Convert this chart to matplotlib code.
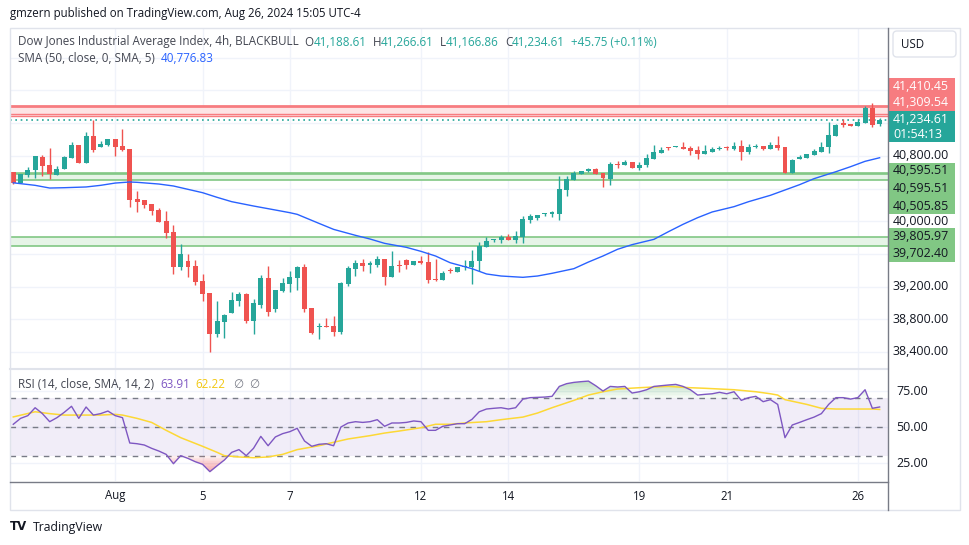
import matplotlib
matplotlib.use("Agg")
import matplotlib.pyplot as plt
from matplotlib.patches import Rectangle, FancyBboxPatch
import numpy as np

plt.rcParams['font.family'] = ['Open Sans', 'DejaVu Sans']

# ---------------- data ----------------
opens = [40598, 40468, 40570, 40623, 40786, 40688, 40570, 40643, 40778, 40933,
         40717, 41043, 40912, 40937, 41006, 40921, 40884, 40272, 40260, 40211,
         40137, 40003, 39868, 39444, 39513, 39452, 39268, 39125, 38624, 38770,
         38876, 39027, 39109, 38783, 38979, 39305, 38925, 39146, 39235, 39309,
         39439, 38938, 38701, 38717, 38717, 38648, 39231, 39419, 39489, 39468,
         39464, 39537, 39321, 39464, 39525, 39468, 39513, 39501, 39293, 39284,
         39399, 39382, 39439, 39439, 39513, 39688, 39770, 39774, 39811, 39770,
         39807, 40015, 40039, 40084, 40084, 40088, 40386, 40508, 40574, 40619,
         40639, 40590, 40521, 40700, 40692, 40729, 40655, 40692, 40761, 40839,
         40904, 40904, 40908, 40892, 40872, 40827, 40851, 40880, 40900, 40884,
         40921, 40847, 40904, 40921, 40884, 40933, 40908, 40594, 40765, 40774,
         40810, 40847, 40908, 41043, 41202, 41190, 41165, 41202, 41386, 41188.61]
highs = [40598, 40574, 40663, 40798, 40810, 40896, 40676, 40794, 40974, 40937,
         41092, 41239, 40982, 41006, 41006, 41129, 40884, 40370, 40260, 40211,
         40158, 40125, 39954, 39721, 39599, 39525, 39350, 39125, 39023, 38868,
         39138, 39138, 39117, 39044, 39342, 39452, 39158, 39309, 39391, 39452,
         39480, 38938, 38754, 38815, 38840, 39256, 39456, 39525, 39537, 39513,
         39574, 39537, 39635, 39525, 39537, 39513, 39574, 39623, 39537, 39391,
         39427, 39439, 39525, 39648, 39746, 39807, 39786, 39827, 39843, 39880,
         40068, 40088, 40076, 40101, 40125, 40549, 40549, 40619, 40619, 40651,
         40651, 40590, 40725, 40737, 40749, 40729, 40725, 40823, 40933, 40904,
         40908, 40921, 40970, 40921, 40921, 40933, 40904, 40921, 40921, 40970,
         40994, 40941, 40945, 40921, 40970, 41043, 40908, 40761, 40810, 40823,
         40884, 40970, 41214, 41190, 41251, 41190, 41251, 41410, 41447, 41266.61]
lows = [40460, 40464, 40545, 40533, 40557, 40521, 40566, 40643, 40778, 40713,
        40708, 40851, 40904, 40925, 40802, 40863, 40178, 40117, 40162, 40080,
        39994, 39790, 39358, 39403, 39321, 39223, 39027, 38403, 38587, 38575,
        38876, 38966, 38754, 38624, 38934, 38840, 38893, 39138, 39138, 39158,
        38893, 38624, 38562, 38701, 38599, 38615, 39211, 39333, 39395, 39370,
        39444, 39223, 39321, 39382, 39415, 39464, 39480, 39248, 39272, 39284,
        39366, 39382, 39403, 39236, 39391, 39688, 39750, 39737, 39774, 39737,
        39737, 39974, 40011, 40064, 40052, 40019, 40313, 40508, 40574, 40606,
        40582, 40423, 40447, 40651, 40692, 40655, 40631, 40668, 40761, 40831,
        40872, 40904, 40884, 40810, 40761, 40819, 40851, 40872, 40872, 40872,
        40749, 40823, 40896, 40872, 40884, 40872, 40594, 40594, 40761, 40774,
        40810, 40847, 40835, 41043, 41153, 41165, 41165, 41202, 41153, 41166.86]
closes = [40472, 40574, 40627, 40798, 40680, 40582, 40639, 40786, 40933, 40717,
          41043, 40872, 40945, 41006, 40912, 40872, 40264, 40239, 40198, 40129,
          39994, 39860, 39444, 39599, 39444, 39260, 39113, 38624, 38779, 38852,
          39036, 39109, 38779, 38999, 39305, 38893, 39158, 39244, 39317, 39439,
          38925, 38632, 38717, 38705, 38648, 39248, 39427, 39489, 39456, 39484,
          39537, 39321, 39452, 39456, 39468, 39513, 39489, 39280, 39280, 39366,
          39391, 39439, 39448, 39513, 39701, 39758, 39778, 39807, 39774, 39819,
          40027, 40064, 40076, 40092, 40109, 40394, 40517, 40590, 40619, 40639,
          40582, 40529, 40700, 40692, 40725, 40655, 40688, 40774, 40847, 40872,
          40896, 40912, 40888, 40859, 40827, 40859, 40888, 40896, 40892, 40921,
          40847, 40908, 40921, 40884, 40933, 40896, 40594, 40749, 40786, 40823,
          40859, 40908, 41055, 41178, 41178, 41165, 41214, 41386, 41178, 41234.61]

sma_idx = [0, 3, 5, 7, 10, 12, 14, 16, 17, 20, 22, 24, 26, 28, 30, 33, 36, 38, 39, 40,
           42, 44, 47, 49, 51, 54, 56, 58, 60, 63, 65, 67, 70, 72, 74, 77, 79, 81, 83, 85,
           88, 90, 92, 94, 96, 99, 101, 104, 106, 108, 110, 113, 115, 117, 119]
sma_vals = [40470, 40439, 40406, 40410, 40419, 40439, 40467, 40480, 40476, 40455,
            40431, 40390, 40349, 40292, 40239, 40186, 40137, 40104, 40084, 40047,
            39973, 39900, 39827, 39782, 39729, 39680, 39631, 39574, 39492, 39419,
            39354, 39329, 39313, 39329, 39362, 39419, 39500, 39574, 39656, 39713,
            39778, 39872, 39962, 40043, 40113, 40178, 40239, 40317, 40382, 40447,
            40521, 40606, 40667, 40733, 40776.83]

rsi = [51.9, 56.0, 57.9, 63.4, 59.3, 53.7, 56.5, 60.2, 64.4, 56.0,
       63.9, 58.3, 59.3, 61.1, 57.9, 56.5, 38.9, 38.4, 37.5, 35.2,
       33.3, 31.0, 24.5, 30.1, 28.2, 25.9, 24.1, 19.0, 23.1, 27.1,
       32.4, 34.3, 30.1, 35.2, 43.5, 37.0, 43.1, 45.4, 46.8, 49.1,
       40.3, 36.6, 38.0, 38.4, 37.0, 50.0, 52.8, 53.7, 53.2, 53.7,
       55.1, 50.5, 52.8, 52.8, 53.2, 54.2, 53.7, 47.7, 47.7, 50.5,
       51.4, 52.3, 52.3, 55.3, 60.6, 62.5, 63.0, 63.4, 62.5, 63.4,
       69.4, 70.4, 70.6, 70.8, 71.3, 78.2, 80.1, 81.0, 81.5, 81.9,
       78.7, 75.0, 78.2, 77.8, 78.2, 73.6, 74.5, 75.9, 78.2, 78.7,
       79.2, 79.6, 78.2, 75.9, 72.2, 72.7, 73.1, 74.1, 73.1, 74.5,
       68.5, 70.4, 71.3, 67.6, 69.0, 65.7, 42.6, 51.4, 53.2, 55.1,
       56.9, 59.3, 65.7, 70.4, 70.4, 69.4, 70.4, 75.9, 63.0, 63.91]

rsi_ma_idx = [0, 3, 5, 7, 10, 12, 14, 15, 17, 19, 21, 23, 26, 28, 29, 31, 33, 35, 37, 39,
              42, 44, 46, 49, 51, 53, 56, 58, 60, 62, 65, 67, 70, 72, 74, 77, 79, 81, 83, 86,
              88, 90, 93, 95, 97, 99, 102, 104, 105, 106, 109, 111, 113, 115, 118, 119]
rsi_ma = [57.0, 60.6, 59.3, 58.3, 58.3, 58.3, 58.8, 58.3, 56.0, 53.2,
          47.7, 42.6, 36.6, 32.4, 30.1, 29.2, 28.7, 29.2, 31.0, 34.3,
          37.0, 39.4, 41.7, 44.0, 45.8, 47.2, 49.5, 51.9, 51.9, 52.8,
          53.7, 55.1, 56.9, 59.7, 63.4, 68.5, 72.2, 74.5, 76.4, 77.3,
          77.8, 78.2, 77.3, 76.9, 76.4, 75.9, 74.5, 73.1, 72.2, 69.0,
          65.7, 63.0, 62.5, 62.5, 62.5, 62.22]

date_idx = [14, 26, 38, 56, 68, 86, 98, 116]
date_labels = ["Aug", "5", "7", "12", "14", "19", "21", "26"]

price_ticks = [38400, 38800, 39200, 40000, 40800]
grid_prices = [38400, 38800, 39200, 39600, 40000, 40400, 40800, 41200, 41600, 42000]
rsi_ticks = [25, 50, 75]

red_zone = [41410.45, 41309.54, 41288]
green_zone1 = [40595.51, 40572, 40505.85]
green_zone2 = [39805.97, 39702.40]
last_price = 41234.61
sma_last = 40776.83
rsi_last = 63.91
rsi_ma_last = 62.22

# ---------------- figure ----------------
W, H = 970, 545
fig = plt.figure(figsize=(W / 100, H / 100), dpi=100)
fig.patch.set_facecolor("white")


def rect(x0, y0, x1, y1):
    return [x0 / W, 1 - y1 / H, (x1 - x0) / W, (y1 - y0) / H]


GREEN = "#26a69a"
RED = "#ef5350"
GRID = "#f0f3fa"
TXT = "#131722"
GRAYTXT = "#434651"

ax = fig.add_axes(rect(10, 28, 888, 368))
ax2 = fig.add_axes(rect(10, 369, 888, 481), sharex=ax)
for a in (ax, ax2):
    a.set_facecolor("white")
    for s in a.spines.values():
        s.set_visible(False)
    a.tick_params(left=False, bottom=False, labelleft=False, labelbottom=False)

ax.set_xlim(-0.45, 120.15)
ax.set_ylim(38203, 42365)
ax2.set_ylim(12.5, 90.3)

# grids
for p in grid_prices:
    ax.axhline(p, color=GRID, lw=1, zorder=0)
for d in date_idx:
    ax.axvline(d, color=GRID, lw=1, zorder=0)
    ax2.axvline(d, color=GRID, lw=1, zorder=0)
for r in rsi_ticks:
    ax2.axhline(r, color=GRID, lw=1, zorder=0)

# zones
ax.axhspan(red_zone[2], red_zone[0], color="#fde4e5", zorder=1, lw=0)
ax.axhline(red_zone[0], color="#f77c80", lw=2, zorder=2)
ax.axhline(red_zone[1], color="#f77c80", lw=1, zorder=2)
ax.axhline(red_zone[2], color="#f77c80", lw=1, zorder=2)
ax.axhspan(green_zone1[2], green_zone1[0], color="#e6f4e7", zorder=1, lw=0)
for g in green_zone1:
    ax.axhline(g, color="#81c784", lw=1.2, zorder=2)
ax.axhspan(green_zone2[1], green_zone2[0], color="#e6f4e7", zorder=1, lw=0)
for g in green_zone2:
    ax.axhline(g, color="#81c784", lw=1.2, zorder=2)
ax.axhline(last_price, color=GREEN, lw=1.2, ls=(0, (1, 2.2)), zorder=2)

# candles
n = len(closes)
x = np.arange(n)
o = np.array(opens); c = np.array(closes); h = np.array(highs); l = np.array(lows)
cols = np.where(c >= o, GREEN, RED)
ax.vlines(x, l, h, colors=cols, lw=1, zorder=4)
bottoms = np.minimum(o, c)
heights = np.maximum(np.abs(c - o), 12)
ax.bar(x, heights, bottom=bottoms, width=0.68, color=cols, lw=0, zorder=5)

# SMA
ax.plot(sma_idx, sma_vals, color="#2962ff", lw=1.0, zorder=6)

# RSI pane
ax2.axhspan(30, 70, color="#7e57c2", alpha=0.1, lw=0, zorder=1)
for lv in (30, 50, 70):
    ax2.axhline(lv, color="#787b86", lw=1, ls=(0, (4, 4)), zorder=2)
rr = np.array(rsi)
# gradient-like fills (stronger far from the band)
for t in np.linspace(70, 84, 8):
    ax2.fill_between(x, rr, t, where=rr > t, interpolate=True, color="#66bb6a",
                     alpha=0.07, lw=0, zorder=2)
for t in np.linspace(30, 18, 8):
    ax2.fill_between(x, rr, t, where=rr < t, interpolate=True, color="#f77c80",
                     alpha=0.13, lw=0, zorder=2)
ax2.plot(rsi_ma_idx, rsi_ma, color="#fdd835", lw=1.1, zorder=3)
ax2.plot(x, rr, color="#7e57c2", lw=1.0, zorder=4)

# ---------------- overlay in pixel coords ----------------
ov = fig.add_axes([0, 0, 1, 1])
ov.set_xlim(0, W)
ov.set_ylim(H, 0)
ov.axis("off")
ov.patch.set_alpha(0)
ov.set_zorder(10)

# frame and separators
ov.add_patch(Rectangle((10, 27.5), 950, 482.5, fill=False, ec="#e0e3eb", lw=1))
ov.plot([10, 888], [368.5, 368.5], color="#e0e3eb", lw=1.5)
ov.plot([10, 888], [481.5, 481.5], color="#787b86", lw=1)
ov.plot([888.5, 888.5], [27.5, 510], color="#787b86", lw=1)

fig.canvas.draw()
renderer = fig.canvas.get_renderer()

LEG = 8.4
AXF = 8.9


def seq_text(x0, y0, parts, size=LEG, gap=0):
    xx = x0
    for s, col in parts:
        t = ov.text(xx, y0, s, color=col, fontsize=size, va="center", ha="left")
        bb = t.get_window_extent(renderer)
        xx += bb.width + gap
    return xx


def pix_y(axis, val):
    return H - axis.transData.transform((0, val))[1]


def pix_x(axis, val):
    return axis.transData.transform((val, 0))[0]


ov.text(10, 13, "gmzern published on TradingView.com, Aug 26, 2024 15:05 UTC-4",
        fontsize=8.3, color=TXT, va="center", ha="left")


def fmt(v):
    return f"{v:,.2f}"


xx = seq_text(18, 42, [("Dow Jones Industrial Average Index, 4h, BLACKBULL", GRAYTXT)])
xx += 6
for lab, val in (("O", opens[-1]), ("H", highs[-1]), ("L", lows[-1]), ("C", closes[-1])):
    xx = seq_text(xx, 42, [(lab, GRAYTXT), (fmt(val), GREEN)])
    xx += 6
seq_text(xx, 42, [("+45.75 (+0.11%)", GREEN)])

xx = seq_text(18, 58, [("SMA (50, close, 0, SMA, 5)", GRAYTXT)])
seq_text(xx + 6, 58, [(fmt(sma_last), "#2962ff")])

xx = seq_text(18, 385, [("RSI (14, close, SMA, 14, 2)", GRAYTXT)])
xx = seq_text(xx + 6, 385, [(f"{rsi_last:.2f}", "#7e57c2")])
xx = seq_text(xx + 6, 385, [(f"{rsi_ma_last:.2f}", "#f2c811")])
xx = seq_text(xx + 7, 385, [("\u2205", "#787b86")])
seq_text(xx + 6, 385, [("\u2205", "#787b86")])

# price axis tick labels
for p in price_ticks:
    ov.text(893, pix_y(ax, p), fmt(p), fontsize=AXF, color=TXT, va="center", ha="left")
for r in rsi_ticks:
    ov.text(896, pix_y(ax2, r), f"{r:.2f}", fontsize=AXF, color=TXT, va="center", ha="left")

# time axis labels
for d, s in zip(date_idx, date_labels):
    ov.text(pix_x(ax, d), 496, s, fontsize=8.3, color=TXT, va="center", ha="center")

# USD button
ov.add_patch(FancyBboxPatch((893, 31), 63, 26, boxstyle="round,pad=0,rounding_size=4",
                            fc="white", ec="#e0e3eb", lw=1))
ov.text(901, 44, "USD", fontsize=AXF - 0.6, color=TXT, va="center", ha="left")


# price labels on the scale
def label_box(y0, y1, fc, lines, tc):
    ov.add_patch(Rectangle((889, y0), 66, y1 - y0, fc=fc, ec="none"))
    for yy, s in lines:
        ov.text(893, yy, s, fontsize=AXF, color=tc, va="center", ha="left")


label_box(78, 111, "#f77c80", [(86.5, fmt(red_zone[0])), (103, fmt(red_zone[1]))], "white")
label_box(111, 142, GREEN, [(119.5, fmt(last_price)), (134, "01:54:13")], "white")
label_box(163, 214, "#81c784", [(171, fmt(green_zone1[0])), (188.5, fmt(green_zone1[0])),
                                 (206, fmt(green_zone1[2]))], TXT)
label_box(228, 262, "#81c784", [(236.5, fmt(green_zone2[0])), (253.5, fmt(green_zone2[1]))], TXT)

# TradingView logo
ov.text(10, 527, "TV", fontsize=8.5, fontweight="heavy", color=TXT, va="center", ha="left",
        family="DejaVu Sans")
ov.text(33, 527, "TradingView", fontsize=8.8, color=TXT, va="center", ha="left")

fig.savefig("out.png", dpi=100, facecolor="white")
